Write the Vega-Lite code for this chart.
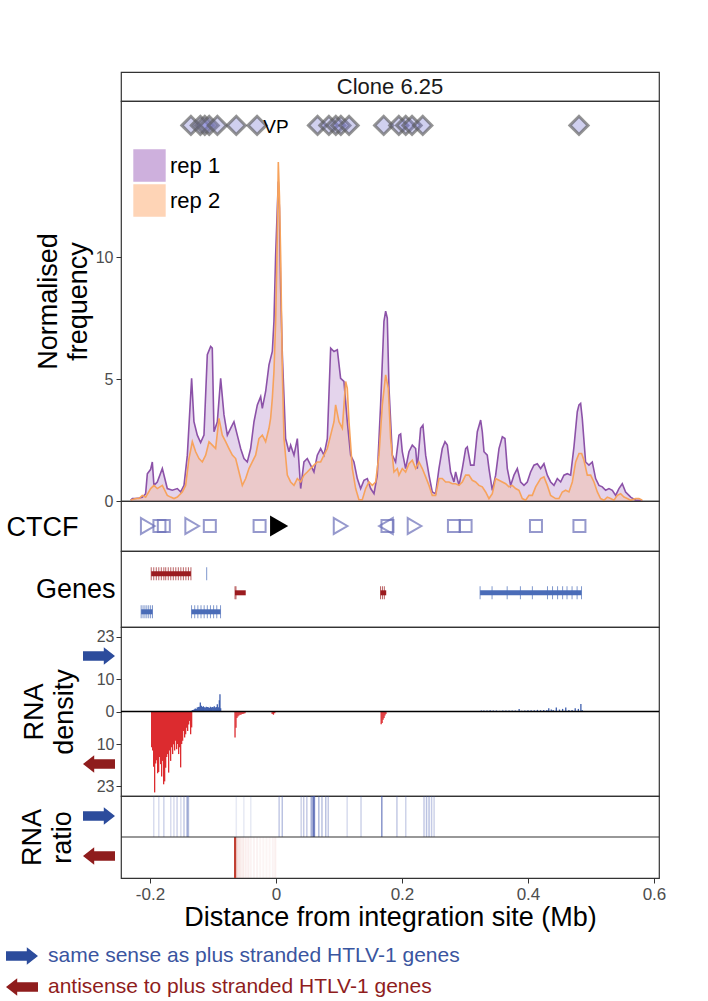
{
  "$schema": "https://vega.github.io/schema/vega-lite/v6.json",
  "background": "white",
  "padding": {"left": 5, "top": 71, "right": 5, "bottom": 5},
  "spacing": 0,
  "bounds": "flush",
  "config": {
    "font": "Liberation Sans",
    "view": {"stroke": "#333333", "strokeWidth": 1.2},
    "axis": {"domain": false, "grid": false, "labelColor": "#4d4d4d", "labelFontSize": 16, "tickColor": "#333333", "tickSize": 5, "titleColor": "#000000", "titleFontWeight": "normal", "titleFontSize": 27, "labelFont": "Liberation Sans", "titleFont": "Liberation Sans"},
    "legend": {"labelFont": "Liberation Sans"}
  },
  "datasets": {
    "freq": [
      {"x":-0.2307,"y":0.03,"rep":"rep 1"},{"x":-0.228,"y":0.1,"rep":"rep 1"},{"x":-0.2228,"y":0.1,"rep":"rep 1"},{"x":-0.2175,"y":0.12,"rep":"rep 1"},{"x":-0.2122,"y":0.15,"rep":"rep 1"},{"x":-0.2069,"y":0.3,"rep":"rep 1"},{"x":-0.2042,"y":1.12,"rep":"rep 1"},{"x":-0.1989,"y":1.3,"rep":"rep 1"},{"x":-0.1963,"y":1.6,"rep":"rep 1"},{"x":-0.1937,"y":0.64,"rep":"rep 1"},{"x":-0.1884,"y":0.78,"rep":"rep 1"},{"x":-0.1804,"y":1.33,"rep":"rep 1"},{"x":-0.1725,"y":0.51,"rep":"rep 1"},{"x":-0.1646,"y":0.44,"rep":"rep 1"},{"x":-0.1566,"y":0.51,"rep":"rep 1"},{"x":-0.1513,"y":0.37,"rep":"rep 1"},{"x":-0.146,"y":0.64,"rep":"rep 1"},{"x":-0.1407,"y":1.88,"rep":"rep 1"},{"x":-0.1339,"y":5.03,"rep":"rep 1"},{"x":-0.1302,"y":3.25,"rep":"rep 1"},{"x":-0.1249,"y":2.7,"rep":"rep 1"},{"x":-0.1196,"y":2.4,"rep":"rep 1"},{"x":-0.1143,"y":2.7,"rep":"rep 1"},{"x":-0.109,"y":6.0,"rep":"rep 1"},{"x":-0.1037,"y":6.34,"rep":"rep 1"},{"x":-0.1011,"y":6.27,"rep":"rep 1"},{"x":-0.0984,"y":2.84,"rep":"rep 1"},{"x":-0.0931,"y":3.25,"rep":"rep 1"},{"x":-0.0878,"y":5.03,"rep":"rep 1"},{"x":-0.0825,"y":3.53,"rep":"rep 1"},{"x":-0.0772,"y":2.7,"rep":"rep 1"},{"x":-0.072,"y":2.98,"rep":"rep 1"},{"x":-0.0667,"y":3.25,"rep":"rep 1"},{"x":-0.0614,"y":2.7,"rep":"rep 1"},{"x":-0.0561,"y":2.15,"rep":"rep 1"},{"x":-0.0508,"y":1.74,"rep":"rep 1"},{"x":-0.0455,"y":1.6,"rep":"rep 1"},{"x":-0.0402,"y":2.15,"rep":"rep 1"},{"x":-0.0349,"y":3.25,"rep":"rep 1"},{"x":-0.0296,"y":3.94,"rep":"rep 1"},{"x":-0.0243,"y":4.28,"rep":"rep 1"},{"x":-0.0217,"y":3.8,"rep":"rep 1"},{"x":-0.0164,"y":4.49,"rep":"rep 1"},{"x":-0.0111,"y":5.58,"rep":"rep 1"},{"x":-0.0058,"y":6.13,"rep":"rep 1"},{"x":-0.0032,"y":7.37,"rep":"rep 1"},{"x":-0.0005,"y":10.1,"rep":"rep 1"},{"x":0.0021,"y":12.0,"rep":"rep 1"},{"x":0.0037,"y":13.1,"rep":"rep 1"},{"x":0.0055,"y":12.0,"rep":"rep 1"},{"x":0.0074,"y":8.74,"rep":"rep 1"},{"x":0.0101,"y":6.0,"rep":"rep 1"},{"x":0.0153,"y":2.56,"rep":"rep 1"},{"x":0.0206,"y":2.02,"rep":"rep 1"},{"x":0.0233,"y":2.29,"rep":"rep 1"},{"x":0.0286,"y":1.88,"rep":"rep 1"},{"x":0.0339,"y":2.56,"rep":"rep 1"},{"x":0.0392,"y":0.51,"rep":"rep 1"},{"x":0.0444,"y":1.6,"rep":"rep 1"},{"x":0.0497,"y":1.74,"rep":"rep 1"},{"x":0.055,"y":1.47,"rep":"rep 1"},{"x":0.0603,"y":1.19,"rep":"rep 1"},{"x":0.0656,"y":1.88,"rep":"rep 1"},{"x":0.0709,"y":2.15,"rep":"rep 1"},{"x":0.0762,"y":1.88,"rep":"rep 1"},{"x":0.0815,"y":2.56,"rep":"rep 1"},{"x":0.0868,"y":6.27,"rep":"rep 1"},{"x":0.0921,"y":6.13,"rep":"rep 1"},{"x":0.0974,"y":6.2,"rep":"rep 1"},{"x":0.1026,"y":5.03,"rep":"rep 1"},{"x":0.1079,"y":4.9,"rep":"rep 1"},{"x":0.1132,"y":3.25,"rep":"rep 1"},{"x":0.1185,"y":1.88,"rep":"rep 1"},{"x":0.1238,"y":1.6,"rep":"rep 1"},{"x":0.1291,"y":0.92,"rep":"rep 1"},{"x":0.1344,"y":0.51,"rep":"rep 1"},{"x":0.1397,"y":0.85,"rep":"rep 1"},{"x":0.145,"y":0.92,"rep":"rep 1"},{"x":0.1503,"y":0.51,"rep":"rep 1"},{"x":0.1556,"y":0.3,"rep":"rep 1"},{"x":0.1608,"y":1.06,"rep":"rep 1"},{"x":0.1661,"y":3.94,"rep":"rep 1"},{"x":0.1714,"y":7.37,"rep":"rep 1"},{"x":0.1741,"y":7.78,"rep":"rep 1"},{"x":0.1767,"y":7.5,"rep":"rep 1"},{"x":0.1794,"y":4.62,"rep":"rep 1"},{"x":0.1847,"y":1.88,"rep":"rep 1"},{"x":0.1899,"y":1.6,"rep":"rep 1"},{"x":0.1952,"y":2.7,"rep":"rep 1"},{"x":0.1979,"y":2.75,"rep":"rep 1"},{"x":0.2005,"y":2.02,"rep":"rep 1"},{"x":0.2058,"y":1.33,"rep":"rep 1"},{"x":0.2111,"y":2.02,"rep":"rep 1"},{"x":0.2164,"y":2.29,"rep":"rep 1"},{"x":0.2217,"y":2.15,"rep":"rep 1"},{"x":0.2243,"y":1.33,"rep":"rep 1"},{"x":0.2296,"y":2.98,"rep":"rep 1"},{"x":0.2333,"y":3.11,"rep":"rep 1"},{"x":0.2376,"y":1.88,"rep":"rep 1"},{"x":0.2429,"y":1.06,"rep":"rep 1"},{"x":0.2481,"y":0.37,"rep":"rep 1"},{"x":0.2534,"y":0.3,"rep":"rep 1"},{"x":0.2587,"y":1.33,"rep":"rep 1"},{"x":0.264,"y":2.15,"rep":"rep 1"},{"x":0.2683,"y":2.43,"rep":"rep 1"},{"x":0.272,"y":2.29,"rep":"rep 1"},{"x":0.2772,"y":1.19,"rep":"rep 1"},{"x":0.2825,"y":0.78,"rep":"rep 1"},{"x":0.2852,"y":1.19,"rep":"rep 1"},{"x":0.2905,"y":0.64,"rep":"rep 1"},{"x":0.2958,"y":1.33,"rep":"rep 1"},{"x":0.3011,"y":2.15,"rep":"rep 1"},{"x":0.3037,"y":2.22,"rep":"rep 1"},{"x":0.309,"y":1.47,"rep":"rep 1"},{"x":0.3143,"y":1.47,"rep":"rep 1"},{"x":0.3196,"y":2.84,"rep":"rep 1"},{"x":0.3249,"y":3.32,"rep":"rep 1"},{"x":0.3275,"y":2.84,"rep":"rep 1"},{"x":0.3302,"y":2.02,"rep":"rep 1"},{"x":0.3354,"y":1.88,"rep":"rep 1"},{"x":0.3381,"y":1.33,"rep":"rep 1"},{"x":0.3434,"y":0.44,"rep":"rep 1"},{"x":0.3487,"y":1.06,"rep":"rep 1"},{"x":0.354,"y":2.15,"rep":"rep 1"},{"x":0.3593,"y":2.63,"rep":"rep 1"},{"x":0.3635,"y":2.56,"rep":"rep 1"},{"x":0.3672,"y":1.33,"rep":"rep 1"},{"x":0.3725,"y":0.64,"rep":"rep 1"},{"x":0.3778,"y":1.06,"rep":"rep 1"},{"x":0.3831,"y":1.33,"rep":"rep 1"},{"x":0.3884,"y":0.78,"rep":"rep 1"},{"x":0.3937,"y":0.64,"rep":"rep 1"},{"x":0.3989,"y":0.78,"rep":"rep 1"},{"x":0.4042,"y":1.19,"rep":"rep 1"},{"x":0.4095,"y":1.47,"rep":"rep 1"},{"x":0.4148,"y":1.53,"rep":"rep 1"},{"x":0.4201,"y":1.33,"rep":"rep 1"},{"x":0.4254,"y":1.53,"rep":"rep 1"},{"x":0.4307,"y":1.06,"rep":"rep 1"},{"x":0.436,"y":0.78,"rep":"rep 1"},{"x":0.4413,"y":0.64,"rep":"rep 1"},{"x":0.4466,"y":0.92,"rep":"rep 1"},{"x":0.4519,"y":0.78,"rep":"rep 1"},{"x":0.4571,"y":1.06,"rep":"rep 1"},{"x":0.4624,"y":1.12,"rep":"rep 1"},{"x":0.4677,"y":1.06,"rep":"rep 1"},{"x":0.473,"y":2.22,"rep":"rep 1"},{"x":0.4783,"y":3.66,"rep":"rep 1"},{"x":0.481,"y":3.94,"rep":"rep 1"},{"x":0.4836,"y":4.0,"rep":"rep 1"},{"x":0.4862,"y":3.39,"rep":"rep 1"},{"x":0.4915,"y":1.6,"rep":"rep 1"},{"x":0.4968,"y":1.47,"rep":"rep 1"},{"x":0.5021,"y":1.6,"rep":"rep 1"},{"x":0.5074,"y":0.92,"rep":"rep 1"},{"x":0.5127,"y":0.64,"rep":"rep 1"},{"x":0.518,"y":0.58,"rep":"rep 1"},{"x":0.5233,"y":0.44,"rep":"rep 1"},{"x":0.5286,"y":0.51,"rep":"rep 1"},{"x":0.5339,"y":0.44,"rep":"rep 1"},{"x":0.5392,"y":0.23,"rep":"rep 1"},{"x":0.5444,"y":0.51,"rep":"rep 1"},{"x":0.5497,"y":0.71,"rep":"rep 1"},{"x":0.555,"y":0.37,"rep":"rep 1"},{"x":0.5603,"y":0.23,"rep":"rep 1"},{"x":0.563,"y":0.16,"rep":"rep 1"},{"x":0.5709,"y":0.03,"rep":"rep 1"},{"x":0.5762,"y":0.03,"rep":"rep 1"},{"x":0.5815,"y":0.0,"rep":"rep 1"},
      {"x":-0.2307,"y":0.03,"rep":"rep 2"},{"x":-0.2228,"y":0.1,"rep":"rep 2"},{"x":-0.2175,"y":0.1,"rep":"rep 2"},{"x":-0.2122,"y":0.23,"rep":"rep 2"},{"x":-0.2069,"y":0.16,"rep":"rep 2"},{"x":-0.1989,"y":0.51,"rep":"rep 2"},{"x":-0.1937,"y":0.64,"rep":"rep 2"},{"x":-0.1884,"y":0.51,"rep":"rep 2"},{"x":-0.1804,"y":0.64,"rep":"rep 2"},{"x":-0.1725,"y":0.23,"rep":"rep 2"},{"x":-0.1672,"y":0.16,"rep":"rep 2"},{"x":-0.1619,"y":0.1,"rep":"rep 2"},{"x":-0.1566,"y":0.16,"rep":"rep 2"},{"x":-0.1487,"y":0.37,"rep":"rep 2"},{"x":-0.1434,"y":0.64,"rep":"rep 2"},{"x":-0.1381,"y":1.74,"rep":"rep 2"},{"x":-0.1328,"y":2.43,"rep":"rep 2"},{"x":-0.1275,"y":2.02,"rep":"rep 2"},{"x":-0.1222,"y":1.74,"rep":"rep 2"},{"x":-0.1169,"y":1.6,"rep":"rep 2"},{"x":-0.1116,"y":1.88,"rep":"rep 2"},{"x":-0.1063,"y":2.43,"rep":"rep 2"},{"x":-0.1011,"y":2.29,"rep":"rep 2"},{"x":-0.0958,"y":2.15,"rep":"rep 2"},{"x":-0.0905,"y":3.39,"rep":"rep 2"},{"x":-0.0852,"y":2.7,"rep":"rep 2"},{"x":-0.0799,"y":2.43,"rep":"rep 2"},{"x":-0.0746,"y":2.15,"rep":"rep 2"},{"x":-0.0693,"y":1.88,"rep":"rep 2"},{"x":-0.064,"y":1.74,"rep":"rep 2"},{"x":-0.0587,"y":1.19,"rep":"rep 2"},{"x":-0.0534,"y":0.64,"rep":"rep 2"},{"x":-0.0481,"y":0.92,"rep":"rep 2"},{"x":-0.0429,"y":1.33,"rep":"rep 2"},{"x":-0.0376,"y":1.6,"rep":"rep 2"},{"x":-0.0323,"y":1.88,"rep":"rep 2"},{"x":-0.027,"y":2.56,"rep":"rep 2"},{"x":-0.0217,"y":2.7,"rep":"rep 2"},{"x":-0.0164,"y":2.43,"rep":"rep 2"},{"x":-0.0111,"y":2.98,"rep":"rep 2"},{"x":-0.0085,"y":3.39,"rep":"rep 2"},{"x":-0.0058,"y":4.21,"rep":"rep 2"},{"x":-0.0032,"y":5.31,"rep":"rep 2"},{"x":-0.0005,"y":7.37,"rep":"rep 2"},{"x":0.0021,"y":10.8,"rep":"rep 2"},{"x":0.0037,"y":13.9,"rep":"rep 2"},{"x":0.0055,"y":12.5,"rep":"rep 2"},{"x":0.0074,"y":10.1,"rep":"rep 2"},{"x":0.0101,"y":5.31,"rep":"rep 2"},{"x":0.0127,"y":2.56,"rep":"rep 2"},{"x":0.018,"y":1.06,"rep":"rep 2"},{"x":0.0233,"y":0.78,"rep":"rep 2"},{"x":0.0286,"y":0.64,"rep":"rep 2"},{"x":0.0339,"y":0.92,"rep":"rep 2"},{"x":0.0392,"y":0.78,"rep":"rep 2"},{"x":0.0444,"y":1.06,"rep":"rep 2"},{"x":0.0497,"y":1.19,"rep":"rep 2"},{"x":0.055,"y":1.33,"rep":"rep 2"},{"x":0.0603,"y":1.47,"rep":"rep 2"},{"x":0.0656,"y":1.6,"rep":"rep 2"},{"x":0.0709,"y":1.6,"rep":"rep 2"},{"x":0.0762,"y":1.88,"rep":"rep 2"},{"x":0.0815,"y":2.15,"rep":"rep 2"},{"x":0.0868,"y":2.7,"rep":"rep 2"},{"x":0.0921,"y":3.25,"rep":"rep 2"},{"x":0.0947,"y":3.94,"rep":"rep 2"},{"x":0.1,"y":3.25,"rep":"rep 2"},{"x":0.1053,"y":2.98,"rep":"rep 2"},{"x":0.1106,"y":4.9,"rep":"rep 2"},{"x":0.1132,"y":4.62,"rep":"rep 2"},{"x":0.1159,"y":3.25,"rep":"rep 2"},{"x":0.1212,"y":1.33,"rep":"rep 2"},{"x":0.1265,"y":0.51,"rep":"rep 2"},{"x":0.1317,"y":0.05,"rep":"rep 2"},{"x":0.137,"y":0.05,"rep":"rep 2"},{"x":0.1423,"y":0.51,"rep":"rep 2"},{"x":0.1476,"y":0.78,"rep":"rep 2"},{"x":0.1529,"y":0.64,"rep":"rep 2"},{"x":0.1582,"y":0.78,"rep":"rep 2"},{"x":0.1635,"y":1.88,"rep":"rep 2"},{"x":0.1688,"y":3.94,"rep":"rep 2"},{"x":0.1741,"y":5.17,"rep":"rep 2"},{"x":0.1783,"y":4.62,"rep":"rep 2"},{"x":0.182,"y":2.56,"rep":"rep 2"},{"x":0.1873,"y":1.19,"rep":"rep 2"},{"x":0.1926,"y":1.33,"rep":"rep 2"},{"x":0.1952,"y":1.06,"rep":"rep 2"},{"x":0.2005,"y":1.33,"rep":"rep 2"},{"x":0.2058,"y":1.19,"rep":"rep 2"},{"x":0.2111,"y":1.53,"rep":"rep 2"},{"x":0.2164,"y":1.67,"rep":"rep 2"},{"x":0.2217,"y":1.33,"rep":"rep 2"},{"x":0.227,"y":1.6,"rep":"rep 2"},{"x":0.2323,"y":1.33,"rep":"rep 2"},{"x":0.2376,"y":0.99,"rep":"rep 2"},{"x":0.2429,"y":0.64,"rep":"rep 2"},{"x":0.2481,"y":0.23,"rep":"rep 2"},{"x":0.2534,"y":0.23,"rep":"rep 2"},{"x":0.2587,"y":0.92,"rep":"rep 2"},{"x":0.264,"y":0.92,"rep":"rep 2"},{"x":0.2693,"y":0.78,"rep":"rep 2"},{"x":0.2746,"y":0.78,"rep":"rep 2"},{"x":0.2799,"y":0.71,"rep":"rep 2"},{"x":0.2852,"y":0.71,"rep":"rep 2"},{"x":0.2905,"y":0.64,"rep":"rep 2"},{"x":0.2958,"y":0.78,"rep":"rep 2"},{"x":0.3011,"y":1.06,"rep":"rep 2"},{"x":0.3063,"y":1.06,"rep":"rep 2"},{"x":0.3116,"y":0.85,"rep":"rep 2"},{"x":0.3169,"y":0.78,"rep":"rep 2"},{"x":0.3222,"y":0.64,"rep":"rep 2"},{"x":0.3275,"y":0.58,"rep":"rep 2"},{"x":0.3328,"y":0.37,"rep":"rep 2"},{"x":0.3381,"y":0.1,"rep":"rep 2"},{"x":0.3434,"y":0.3,"rep":"rep 2"},{"x":0.3487,"y":0.92,"rep":"rep 2"},{"x":0.354,"y":0.85,"rep":"rep 2"},{"x":0.3593,"y":0.78,"rep":"rep 2"},{"x":0.3646,"y":0.71,"rep":"rep 2"},{"x":0.3698,"y":0.58,"rep":"rep 2"},{"x":0.3751,"y":0.64,"rep":"rep 2"},{"x":0.3804,"y":0.51,"rep":"rep 2"},{"x":0.3857,"y":0.44,"rep":"rep 2"},{"x":0.391,"y":0.1,"rep":"rep 2"},{"x":0.3963,"y":0.03,"rep":"rep 2"},{"x":0.4016,"y":0.23,"rep":"rep 2"},{"x":0.4069,"y":0.23,"rep":"rep 2"},{"x":0.4122,"y":0.58,"rep":"rep 2"},{"x":0.4201,"y":0.92,"rep":"rep 2"},{"x":0.4254,"y":0.99,"rep":"rep 2"},{"x":0.4307,"y":0.64,"rep":"rep 2"},{"x":0.436,"y":0.23,"rep":"rep 2"},{"x":0.4439,"y":0.1,"rep":"rep 2"},{"x":0.4492,"y":0.1,"rep":"rep 2"},{"x":0.4545,"y":0.37,"rep":"rep 2"},{"x":0.4598,"y":0.44,"rep":"rep 2"},{"x":0.4651,"y":0.37,"rep":"rep 2"},{"x":0.4704,"y":0.78,"rep":"rep 2"},{"x":0.4757,"y":1.6,"rep":"rep 2"},{"x":0.481,"y":1.95,"rep":"rep 2"},{"x":0.4852,"y":1.95,"rep":"rep 2"},{"x":0.4889,"y":1.67,"rep":"rep 2"},{"x":0.4942,"y":1.06,"rep":"rep 2"},{"x":0.4995,"y":1.06,"rep":"rep 2"},{"x":0.5048,"y":0.78,"rep":"rep 2"},{"x":0.5101,"y":0.37,"rep":"rep 2"},{"x":0.5153,"y":0.1,"rep":"rep 2"},{"x":0.5206,"y":0.03,"rep":"rep 2"},{"x":0.5259,"y":0.16,"rep":"rep 2"},{"x":0.5312,"y":0.1,"rep":"rep 2"},{"x":0.5365,"y":0.03,"rep":"rep 2"},{"x":0.5418,"y":0.23,"rep":"rep 2"},{"x":0.5471,"y":0.3,"rep":"rep 2"},{"x":0.5524,"y":0.16,"rep":"rep 2"},{"x":0.5577,"y":0.1,"rep":"rep 2"},{"x":0.563,"y":0.03,"rep":"rep 2"},{"x":0.5709,"y":0.1,"rep":"rep 2"},{"x":0.5762,"y":0.1,"rep":"rep 2"},{"x":0.5815,"y":0.03,"rep":"rep 2"}
    ],
    "diamonds": [
      {"x":-0.135},{"x":-0.12},{"x":-0.113},{"x":-0.106},{"x":-0.093},{"x":-0.063},{"x":-0.03},
      {"x":0.066},{"x":0.084},{"x":0.095},{"x":0.103},{"x":0.116},
      {"x":0.171},{"x":0.195},{"x":0.206},{"x":0.216},{"x":0.233},
      {"x":0.481}
    ],
    "ctcf": [
      {"x":-0.2035,"orient":"fwd"},{"x":-0.185,"orient":"unk"},{"x":-0.178,"orient":"unk"},{"x":-0.133,"orient":"fwd"},{"x":-0.105,"orient":"unk"},{"x":-0.026,"orient":"unk"},{"x":0.1026,"orient":"fwd"},{"x":0.1746,"orient":"rev"},{"x":0.177,"orient":"unk"},{"x":0.22,"orient":"fwd"},{"x":0.2825,"orient":"unk"},{"x":0.301,"orient":"unk"},{"x":0.4127,"orient":"unk"},{"x":0.4817,"orient":"unk"}
    ],
    "genes": [
      {"start":-0.198,"end":-0.135,"row":3,"strand":"minus"},
      {"start":-0.065,"end":-0.048,"row":2,"strand":"minus"},
      {"start":0.166,"end":0.175,"row":2,"strand":"minus"},
      {"start":-0.214,"end":-0.196,"row":1,"strand":"plus"},
      {"start":-0.134,"end":-0.088,"row":1,"strand":"plus"},
      {"start":0.324,"end":0.485,"row":2,"strand":"plus"}
    ],
    "exons": [
      {"x":-0.198,"row":3,"strand":"minus"},{"x":-0.194,"row":3,"strand":"minus"},{"x":-0.19,"row":3,"strand":"minus"},{"x":-0.186,"row":3,"strand":"minus"},{"x":-0.182,"row":3,"strand":"minus"},{"x":-0.178,"row":3,"strand":"minus"},{"x":-0.175,"row":3,"strand":"minus"},{"x":-0.171,"row":3,"strand":"minus"},{"x":-0.167,"row":3,"strand":"minus"},{"x":-0.163,"row":3,"strand":"minus"},{"x":-0.159,"row":3,"strand":"minus"},{"x":-0.155,"row":3,"strand":"minus"},{"x":-0.151,"row":3,"strand":"minus"},{"x":-0.147,"row":3,"strand":"minus"},{"x":-0.143,"row":3,"strand":"minus"},{"x":-0.139,"row":3,"strand":"minus"},{"x":-0.135,"row":3,"strand":"minus"},
      {"x":-0.11,"row":3,"strand":"plus"},
      {"x":-0.065,"row":2,"strand":"minus"},{"x":-0.0635,"row":2,"strand":"minus"},
      {"x":0.166,"row":2,"strand":"minus"},{"x":0.169,"row":2,"strand":"minus"},{"x":0.172,"row":2,"strand":"minus"},
      {"x":-0.214,"row":1,"strand":"plus"},{"x":-0.211,"row":1,"strand":"plus"},{"x":-0.208,"row":1,"strand":"plus"},{"x":-0.205,"row":1,"strand":"plus"},{"x":-0.202,"row":1,"strand":"plus"},{"x":-0.199,"row":1,"strand":"plus"},{"x":-0.196,"row":1,"strand":"plus"},
      {"x":-0.134,"row":1,"strand":"plus"},{"x":-0.129,"row":1,"strand":"plus"},{"x":-0.124,"row":1,"strand":"plus"},{"x":-0.119,"row":1,"strand":"plus"},{"x":-0.114,"row":1,"strand":"plus"},{"x":-0.109,"row":1,"strand":"plus"},{"x":-0.104,"row":1,"strand":"plus"},{"x":-0.099,"row":1,"strand":"plus"},{"x":-0.094,"row":1,"strand":"plus"},{"x":-0.088,"row":1,"strand":"plus"},
      {"x":0.324,"row":2,"strand":"plus"},{"x":0.343,"row":2,"strand":"plus"},{"x":0.367,"row":2,"strand":"plus"},{"x":0.388,"row":2,"strand":"plus"},{"x":0.407,"row":2,"strand":"plus"},{"x":0.431,"row":2,"strand":"plus"},{"x":0.439,"row":2,"strand":"plus"},{"x":0.447,"row":2,"strand":"plus"},{"x":0.455,"row":2,"strand":"plus"},{"x":0.462,"row":2,"strand":"plus"},{"x":0.47,"row":2,"strand":"plus"},{"x":0.478,"row":2,"strand":"plus"},{"x":0.485,"row":2,"strand":"plus"}
    ],
    "dens": [
      {"x":-0.19735,"v":-11,"strand":"minus"},{"x":-0.19577,"v":-12,"strand":"minus"},{"x":-0.19418,"v":-17,"strand":"minus"},{"x":-0.19259,"v":-24.9,"strand":"minus"},{"x":-0.19101,"v":-16,"strand":"minus"},{"x":-0.18942,"v":-15,"strand":"minus"},{"x":-0.18783,"v":-19,"strand":"minus"},{"x":-0.18624,"v":-18.6,"strand":"minus"},{"x":-0.18466,"v":-14,"strand":"minus"},{"x":-0.18307,"v":-16.2,"strand":"minus"},{"x":-0.18148,"v":-20,"strand":"minus"},{"x":-0.17989,"v":-15.2,"strand":"minus"},{"x":-0.17831,"v":-22.4,"strand":"minus"},{"x":-0.17672,"v":-21.5,"strand":"minus"},{"x":-0.17513,"v":-17.3,"strand":"minus"},{"x":-0.17354,"v":-14,"strand":"minus"},{"x":-0.17196,"v":-13.1,"strand":"minus"},{"x":-0.17037,"v":-18.8,"strand":"minus"},{"x":-0.16878,"v":-12,"strand":"minus"},{"x":-0.1672,"v":-15.2,"strand":"minus"},{"x":-0.16561,"v":-11,"strand":"minus"},{"x":-0.16402,"v":-13.1,"strand":"minus"},{"x":-0.16243,"v":-10.1,"strand":"minus"},{"x":-0.16085,"v":-12,"strand":"minus"},{"x":-0.15926,"v":-9,"strand":"minus"},{"x":-0.15767,"v":-11.6,"strand":"minus"},{"x":-0.15608,"v":-10,"strand":"minus"},{"x":-0.1545,"v":-13.1,"strand":"minus"},{"x":-0.15291,"v":-11,"strand":"minus"},{"x":-0.15132,"v":-17.2,"strand":"minus"},{"x":-0.14974,"v":-10,"strand":"minus"},{"x":-0.14815,"v":-9,"strand":"minus"},{"x":-0.14656,"v":-6,"strand":"minus"},{"x":-0.14497,"v":-8,"strand":"minus"},{"x":-0.14339,"v":-7,"strand":"minus"},{"x":-0.1418,"v":-5,"strand":"minus"},{"x":-0.14021,"v":-6,"strand":"minus"},{"x":-0.13862,"v":-4,"strand":"minus"},{"x":-0.13704,"v":-2.9,"strand":"minus"},{"x":-0.13545,"v":-7,"strand":"minus"},{"x":-0.13386,"v":-4.9,"strand":"minus"},
      {"x":-0.065,"v":-8,"strand":"minus"},{"x":-0.0635,"v":-5,"strand":"minus"},{"x":-0.062,"v":-2,"strand":"minus"},{"x":-0.0604,"v":-1.5,"strand":"minus"},{"x":-0.0588,"v":-1.2,"strand":"minus"},{"x":-0.0572,"v":-1,"strand":"minus"},{"x":-0.0556,"v":-1,"strand":"minus"},{"x":-0.054,"v":-0.8,"strand":"minus"},{"x":-0.0524,"v":-0.8,"strand":"minus"},{"x":-0.0508,"v":-0.6,"strand":"minus"},{"x":-0.0492,"v":-0.5,"strand":"minus"},
      {"x":-0.006,"v":-0.8,"strand":"minus"},{"x":-0.004,"v":-1,"strand":"minus"},{"x":-0.002,"v":-0.5,"strand":"minus"},
      {"x":0.167,"v":-3.9,"strand":"minus"},{"x":0.1685,"v":-3.5,"strand":"minus"},{"x":0.17,"v":-2.5,"strand":"minus"},{"x":0.1715,"v":-2,"strand":"minus"},{"x":0.173,"v":-1.2,"strand":"minus"},{"x":0.1745,"v":-0.8,"strand":"minus"},
      {"x":-0.1328,"v":0.5,"strand":"plus"},{"x":-0.1312,"v":0.5,"strand":"plus"},{"x":-0.1296,"v":0.7,"strand":"plus"},{"x":-0.128,"v":0.9,"strand":"plus"},{"x":-0.1265,"v":0.8,"strand":"plus"},{"x":-0.1249,"v":1.2,"strand":"plus"},{"x":-0.1233,"v":1.4,"strand":"plus"},{"x":-0.1217,"v":1.5,"strand":"plus"},{"x":-0.1201,"v":2.8,"strand":"plus"},{"x":-0.1185,"v":1.8,"strand":"plus"},{"x":-0.1169,"v":1.4,"strand":"plus"},{"x":-0.1153,"v":1.6,"strand":"plus"},{"x":-0.1138,"v":1.3,"strand":"plus"},{"x":-0.1122,"v":1.2,"strand":"plus"},{"x":-0.1106,"v":1.5,"strand":"plus"},{"x":-0.109,"v":1.4,"strand":"plus"},{"x":-0.1074,"v":1.3,"strand":"plus"},{"x":-0.1058,"v":1.1,"strand":"plus"},{"x":-0.1042,"v":1.5,"strand":"plus"},{"x":-0.1026,"v":1.2,"strand":"plus"},{"x":-0.1011,"v":1.4,"strand":"plus"},{"x":-0.0995,"v":1.3,"strand":"plus"},{"x":-0.0979,"v":1.6,"strand":"plus"},{"x":-0.0963,"v":1.2,"strand":"plus"},{"x":-0.0947,"v":1.4,"strand":"plus"},{"x":-0.0931,"v":2.2,"strand":"plus"},{"x":-0.0915,"v":1.3,"strand":"plus"},{"x":-0.0899,"v":3.5,"strand":"plus"},{"x":-0.0889,"v":5.3,"strand":"plus"},{"x":-0.0878,"v":1.0,"strand":"plus"},
      {"x":0.326,"v":0.3,"strand":"plus"},{"x":0.33,"v":0.3,"strand":"plus"},{"x":0.335,"v":0.3,"strand":"plus"},{"x":0.34,"v":0.4,"strand":"plus"},{"x":0.345,"v":0.3,"strand":"plus"},{"x":0.35,"v":0.3,"strand":"plus"},{"x":0.355,"v":0.2,"strand":"plus"},{"x":0.36,"v":0.3,"strand":"plus"},{"x":0.365,"v":0.3,"strand":"plus"},{"x":0.37,"v":0.3,"strand":"plus"},{"x":0.375,"v":0.3,"strand":"plus"},{"x":0.38,"v":0.3,"strand":"plus"},{"x":0.386,"v":0.8,"strand":"plus"},{"x":0.39,"v":0.2,"strand":"plus"},{"x":0.395,"v":0.3,"strand":"plus"},{"x":0.4,"v":0.4,"strand":"plus"},{"x":0.405,"v":0.4,"strand":"plus"},{"x":0.41,"v":0.4,"strand":"plus"},{"x":0.415,"v":0.5,"strand":"plus"},{"x":0.42,"v":0.4,"strand":"plus"},{"x":0.425,"v":0.5,"strand":"plus"},{"x":0.43,"v":0.5,"strand":"plus"},{"x":0.433,"v":1.0,"strand":"plus"},{"x":0.437,"v":0.6,"strand":"plus"},{"x":0.44,"v":0.5,"strand":"plus"},{"x":0.445,"v":1.2,"strand":"plus"},{"x":0.45,"v":0.6,"strand":"plus"},{"x":0.455,"v":0.8,"strand":"plus"},{"x":0.46,"v":1.2,"strand":"plus"},{"x":0.465,"v":0.5,"strand":"plus"},{"x":0.47,"v":0.5,"strand":"plus"},{"x":0.475,"v":1.0,"strand":"plus"},{"x":0.48,"v":0.8,"strand":"plus"},{"x":0.484,"v":2.3,"strand":"plus"},{"x":0.486,"v":0.5,"strand":"plus"}
    ],
    "ratio": [
      {"x":-0.194,"ratio":0.2,"strand":"plus"},{"x":-0.186,"ratio":0.2,"strand":"plus"},{"x":-0.178,"ratio":0.25,"strand":"plus"},{"x":-0.167,"ratio":0.2,"strand":"plus"},{"x":-0.162,"ratio":0.2,"strand":"plus"},{"x":-0.157,"ratio":0.25,"strand":"plus"},{"x":-0.151,"ratio":0.2,"strand":"plus"},{"x":-0.146,"ratio":0.3,"strand":"plus"},{"x":-0.141,"ratio":0.45,"strand":"plus"},{"x":-0.139,"ratio":0.4,"strand":"plus"},{"x":-0.063,"ratio":0.12,"strand":"plus"},{"x":-0.051,"ratio":0.12,"strand":"plus"},{"x":-0.04,"ratio":0.12,"strand":"plus"},{"x":0.005,"ratio":0.3,"strand":"plus"},{"x":0.01,"ratio":0.35,"strand":"plus"},{"x":0.04,"ratio":0.25,"strand":"plus"},{"x":0.044,"ratio":0.3,"strand":"plus"},{"x":0.049,"ratio":0.3,"strand":"plus"},{"x":0.056,"ratio":0.45,"strand":"plus"},{"x":0.059,"ratio":0.8,"strand":"plus"},{"x":0.061,"ratio":0.7,"strand":"plus"},{"x":0.068,"ratio":0.4,"strand":"plus"},{"x":0.073,"ratio":0.35,"strand":"plus"},{"x":0.079,"ratio":0.35,"strand":"plus"},{"x":0.083,"ratio":0.3,"strand":"plus"},{"x":0.113,"ratio":0.2,"strand":"plus"},{"x":0.135,"ratio":0.25,"strand":"plus"},{"x":0.168,"ratio":0.6,"strand":"plus"},{"x":0.192,"ratio":0.3,"strand":"plus"},{"x":0.206,"ratio":0.25,"strand":"plus"},{"x":0.235,"ratio":0.3,"strand":"plus"},{"x":0.239,"ratio":0.35,"strand":"plus"},{"x":0.243,"ratio":0.35,"strand":"plus"},{"x":0.247,"ratio":0.3,"strand":"plus"},{"x":0.251,"ratio":0.25,"strand":"plus"},
      {"x":-0.065,"ratio":0.95,"strand":"minus"},{"x":-0.064,"ratio":0.3,"strand":"minus"},{"x":-0.062,"ratio":0.15,"strand":"minus"},{"x":-0.059,"ratio":0.12,"strand":"minus"},{"x":-0.056,"ratio":0.1,"strand":"minus"},{"x":-0.052,"ratio":0.1,"strand":"minus"},{"x":-0.048,"ratio":0.08,"strand":"minus"},{"x":-0.044,"ratio":0.08,"strand":"minus"},{"x":-0.04,"ratio":0.06,"strand":"minus"},{"x":-0.035,"ratio":0.06,"strand":"minus"},{"x":-0.03,"ratio":0.06,"strand":"minus"},{"x":-0.025,"ratio":0.05,"strand":"minus"},{"x":-0.02,"ratio":0.05,"strand":"minus"},{"x":-0.015,"ratio":0.05,"strand":"minus"},{"x":-0.01,"ratio":0.05,"strand":"minus"},{"x":-0.005,"ratio":0.06,"strand":"minus"},{"x":-0.001,"ratio":0.08,"strand":"minus"}
    ],
    "legendkeys": [{"key": "same"}, {"key": "anti"}]
  },
  "vconcat": [
    {
      "width": 538, "height": 29,
      "data": {"values": [{"label": "Clone 6.25", "x": 0.181, "y": 0.5}]},
      "mark": {"type": "text", "fontSize": 22, "color": "#1a1a1a"},
      "encoding": {
        "x": {"field": "x", "type": "quantitative", "scale": {"domain": [-0.246, 0.608], "nice": false, "zero": false}, "axis": null},
        "y": {"field": "y", "type": "quantitative", "scale": {"domain": [0, 1]}, "axis": null},
        "text": {"field": "label", "type": "nominal"}
      }
    },
    {
      "width": 538, "height": 400,
      "layer": [
        {
          "data": {"name": "freq"},
          "mark": {"type": "area", "fillOpacity": 0.3},
          "encoding": {
            "x": {"field": "x", "type": "quantitative", "scale": {"domain": [-0.246, 0.608], "nice": false, "zero": false}, "axis": null},
            "y": {"field": "y", "type": "quantitative", "stack": null, "scale": {"domain": [0, 16.4], "nice": false}, "axis": {"values": [0, 5, 10], "title": ["Normalised", "frequency"], "titleLineHeight": 30, "titlePadding": 3, "labelPadding": 3}},
            "fill": {"field": "rep", "type": "nominal", "scale": {"domain": ["rep 1", "rep 2"], "range": ["#a66fc1", "#fdb07a"]},
              "legend": {"orient": "none", "legendX": 12, "legendY": 48, "title": null, "symbolType": "square", "symbolSize": 1050, "symbolOpacity": 0.55, "symbolStrokeWidth": 0, "labelFontSize": 22, "labelColor": "#000000", "rowPadding": 2, "padding": 0, "labelOffset": 4}}
          }
        },
        {
          "data": {"name": "freq"},
          "mark": {"type": "line", "strokeWidth": 1.6},
          "encoding": {
            "x": {"field": "x", "type": "quantitative", "scale": {"domain": [-0.246, 0.608], "nice": false, "zero": false}, "axis": null},
            "y": {"field": "y", "type": "quantitative"},
            "stroke": {"field": "rep", "type": "nominal", "scale": {"domain": ["rep 1", "rep 2"], "range": ["#8c52a8", "#f7a35c"]}, "legend": null}
          }
        },
        {
          "data": {"name": "diamonds"},
          "mark": {"type": "point", "shape": "diamond", "filled": true, "size": 330, "fill": "#7878d2", "fillOpacity": 0.35, "stroke": "#5a5a5a", "strokeOpacity": 0.65, "strokeWidth": 3},
          "encoding": {
            "x": {"field": "x", "type": "quantitative"},
            "y": {"datum": 15.4, "type": "quantitative"}
          }
        },
        {
          "data": {"values": [{"x": 0, "label": "VP"}]},
          "mark": {"type": "text", "fontSize": 19, "color": "#000000"},
          "encoding": {
            "x": {"field": "x", "type": "quantitative"},
            "y": {"datum": 15.35, "type": "quantitative"},
            "text": {"field": "label", "type": "nominal"}
          }
        }
      ]
    },
    {
      "width": 538, "height": 50,
      "layer": [
        {
          "data": {"name": "ctcf"},
          "transform": [{"filter": "datum.orient != 'unk'"}],
          "mark": {"type": "point", "filled": false, "strokeWidth": 2, "size": 250, "color": "#6b6fb8"},
          "encoding": {
            "x": {"field": "x", "type": "quantitative", "scale": {"domain": [-0.246, 0.608], "nice": false, "zero": false}, "axis": null},
            "y": {"datum": 0.5, "type": "quantitative", "scale": {"domain": [0, 1]}, "axis": {"title": "CTCF", "values": [], "labels": false, "ticks": false, "titleAngle": 0, "titleAlign": "right", "titleBaseline": "middle", "titleX": -43, "titleY": 26}},
            "shape": {"field": "orient", "type": "nominal", "scale": {"domain": ["fwd", "rev"], "range": ["triangle-right", "triangle-left"]}, "legend": null}
          }
        },
        {
          "data": {"name": "ctcf"},
          "transform": [{"filter": "datum.orient == 'unk'"}],
          "mark": {"type": "point", "shape": "square", "filled": false, "strokeWidth": 2, "size": 144, "color": "#6b6fb8"},
          "encoding": {
            "x": {"field": "x", "type": "quantitative"},
            "y": {"datum": 0.5, "type": "quantitative"}
          }
        },
        {
          "data": {"values": [{"x": 0.005}]},
          "mark": {"type": "point", "shape": "triangle-right", "filled": true, "size": 440, "color": "#000000", "opacity": 1},
          "encoding": {
            "x": {"field": "x", "type": "quantitative"},
            "y": {"datum": 0.5, "type": "quantitative"}
          }
        }
      ]
    },
    {
      "width": 538, "height": 76,
      "layer": [
        {
          "data": {"name": "genes"},
          "mark": {"type": "rule", "strokeWidth": 5},
          "encoding": {
            "x": {"field": "start", "type": "quantitative", "scale": {"domain": [-0.246, 0.608], "nice": false, "zero": false}, "axis": null},
            "x2": {"field": "end"},
            "y": {"field": "row", "type": "quantitative", "scale": {"domain": [0.2, 4.2], "nice": false, "zero": false}, "axis": {"title": "Genes", "values": [], "labels": false, "ticks": false, "titleAngle": 0, "titleAlign": "right", "titleBaseline": "middle", "titleX": -6, "titleY": 38}},
            "color": {"field": "strand", "type": "nominal", "scale": {"domain": ["plus", "minus"], "range": ["#4a6cb8", "#9b1c20"]}, "legend": null}
          }
        },
        {
          "data": {"name": "exons"},
          "mark": {"type": "tick", "orient": "vertical", "size": 13, "thickness": 1, "opacity": 0.7},
          "encoding": {
            "x": {"field": "x", "type": "quantitative"},
            "y": {"field": "row", "type": "quantitative"},
            "color": {"field": "strand", "type": "nominal", "legend": null}
          }
        },
        {
          "data": {"name": "legendkeys"},
          "mark": {"type": "point", "filled": true, "opacity": 0.001},
          "encoding": {
            "fill": {"field": "key", "type": "nominal", "scale": {"domain": ["same", "anti"], "range": ["#2c4c9c", "#8f1d1d"]},
              "legend": {"orient": "none", "legendX": -115, "legendY": 389, "title": null, "direction": "vertical", "symbolSize": 1024, "symbolOpacity": 1, "symbolStrokeWidth": 0, "labelFontSize": 21, "labelOffset": 10, "rowPadding": 5, "padding": 0, "labelLimit": 600, "labelColor": {"expr": "datum.value == 'same' ? '#3a55a0' : '#8f1d1d'"},
                "labelExpr": "datum.value == 'same' ? 'same sense as plus stranded HTLV-1 genes' : 'antisense to plus stranded HTLV-1 genes'"}},
            "shape": {"field": "key", "type": "nominal",
              "scale": {"domain": ["same", "anti"], "range": ["M-1,-0.3L0.3,-0.3L0.3,-0.55L1,0L0.3,0.55L0.3,0.3L-1,0.3Z", "M1,-0.3L-0.3,-0.3L-0.3,-0.55L-1,0L-0.3,0.55L-0.3,0.3L1,0.3Z"]},
              "legend": {"orient": "none", "legendX": -115, "legendY": 389, "title": null, "direction": "vertical", "symbolSize": 1024, "symbolOpacity": 1, "symbolStrokeWidth": 0, "labelFontSize": 21, "labelOffset": 10, "rowPadding": 5, "padding": 0, "labelLimit": 600, "labelColor": {"expr": "datum.value == 'same' ? '#3a55a0' : '#8f1d1d'"},
                "labelExpr": "datum.value == 'same' ? 'same sense as plus stranded HTLV-1 genes' : 'antisense to plus stranded HTLV-1 genes'"}}
          }
        }
      ]
    },
    {
      "width": 538, "height": 169,
      "layer": [
        {
          "data": {"name": "dens"},
          "mark": {"type": "rule", "strokeWidth": 1.3},
          "encoding": {
            "x": {"field": "x", "type": "quantitative", "scale": {"domain": [-0.246, 0.608], "nice": false, "zero": false}, "axis": null},
            "y": {"field": "v", "type": "quantitative", "scale": {"domain": [-26, 26], "nice": false, "zero": false},
              "axis": {"values": [-23, -10, 0, 10, 23], "labelExpr": "format(abs(datum.value), 'd')", "title": ["RNA", "density"], "titleLineHeight": 30, "titlePadding": 18}},
            "y2": {"datum": 0},
            "color": {"field": "strand", "type": "nominal", "scale": {"domain": ["plus", "minus"], "range": ["#3f5fae", "#dc2b2f"]}, "legend": null}
          }
        },
        {
          "data": {"values": [{"z": 0}]},
          "mark": {"type": "rule", "color": "#000000", "strokeWidth": 1.5},
          "encoding": {"y": {"field": "z", "type": "quantitative"}}
        },
        {
          "data": {"name": "legendkeys"},
          "mark": {"type": "point", "filled": true, "opacity": 0.001},
          "encoding": {
            "fill": {"field": "key", "type": "nominal", "scale": {"domain": ["same", "anti"], "range": ["#2c4c9c", "#8f1d1d"]},
              "legend": {"orient": "none", "legendX": -38, "legendY": 13, "title": null, "direction": "vertical", "symbolSize": 1024, "symbolOpacity": 1, "symbolStrokeWidth": 0, "labelExpr": "''", "labelFontSize": 1, "labelOffset": 0, "rowPadding": 83, "padding": 0}},
            "shape": {"field": "key", "type": "nominal",
              "scale": {"domain": ["same", "anti"], "range": ["M-1,-0.3L0.3,-0.3L0.3,-0.55L1,0L0.3,0.55L0.3,0.3L-1,0.3Z", "M1,-0.3L-0.3,-0.3L-0.3,-0.55L-1,0L-0.3,0.55L-0.3,0.3L1,0.3Z"]},
              "legend": {"orient": "none", "legendX": -38, "legendY": 13, "title": null, "direction": "vertical", "symbolSize": 1024, "symbolOpacity": 1, "symbolStrokeWidth": 0, "labelExpr": "''", "labelFontSize": 1, "labelOffset": 0, "rowPadding": 83, "padding": 0}}
          }
        }
      ]
    },
    {
      "width": 538, "height": 82,
      "layer": [
        {
          "data": {"name": "ratio"},
          "transform": [{"filter": "datum.strand == 'plus'"}],
          "mark": {"type": "rule", "strokeWidth": 1.5, "color": "#3a4fa8"},
          "encoding": {
            "x": {"field": "x", "type": "quantitative", "scale": {"domain": [-0.246, 0.608], "nice": false, "zero": false},
              "axis": {"values": [-0.2, 0, 0.2, 0.4, 0.6], "labelExpr": "datum.value == 0 ? '0' : (datum.value < 0 ? '-' : '') + format(abs(datum.value), '.1f')", "labelFontSize": 17, "title": "Distance from integration site (Mb)", "titlePadding": 2, "labelPadding": 3}},
            "y": {"datum": 1, "type": "quantitative", "scale": {"domain": [0, 2], "nice": false},
              "axis": {"values": [], "labels": false, "ticks": false, "title": ["RNA", "ratio"], "titleLineHeight": 30, "titlePadding": 45}},
            "y2": {"datum": 2},
            "opacity": {"field": "ratio", "type": "quantitative", "scale": {"domain": [0, 1], "range": [0, 1]}, "legend": null}
          }
        },
        {
          "data": {"name": "ratio"},
          "transform": [{"filter": "datum.strand == 'minus'"}],
          "mark": {"type": "rule", "strokeWidth": 2, "color": "#c0392b"},
          "encoding": {
            "x": {"field": "x", "type": "quantitative"},
            "y": {"datum": 0, "type": "quantitative"},
            "y2": {"datum": 1},
            "opacity": {"field": "ratio", "type": "quantitative", "legend": null}
          }
        },
        {
          "data": {"values": [{"z": 1}]},
          "mark": {"type": "rule", "color": "#333333", "strokeWidth": 1.2},
          "encoding": {"y": {"field": "z", "type": "quantitative"}}
        },
        {
          "data": {"name": "legendkeys"},
          "mark": {"type": "point", "filled": true, "opacity": 0.001},
          "encoding": {
            "fill": {"field": "key", "type": "nominal", "scale": {"domain": ["same", "anti"], "range": ["#2c4c9c", "#8f1d1d"]},
              "legend": {"orient": "none", "legendX": -38, "legendY": 4, "title": null, "direction": "vertical", "symbolSize": 1024, "symbolOpacity": 1, "symbolStrokeWidth": 0, "labelExpr": "''", "labelFontSize": 1, "labelOffset": 0, "rowPadding": 15, "padding": 0}},
            "shape": {"field": "key", "type": "nominal",
              "scale": {"domain": ["same", "anti"], "range": ["M-1,-0.3L0.3,-0.3L0.3,-0.55L1,0L0.3,0.55L0.3,0.3L-1,0.3Z", "M1,-0.3L-0.3,-0.3L-0.3,-0.55L-1,0L-0.3,0.55L-0.3,0.3L1,0.3Z"]},
              "legend": {"orient": "none", "legendX": -38, "legendY": 4, "title": null, "direction": "vertical", "symbolSize": 1024, "symbolOpacity": 1, "symbolStrokeWidth": 0, "labelExpr": "''", "labelFontSize": 1, "labelOffset": 0, "rowPadding": 15, "padding": 0}}
          }
        }
      ]
    }
  ],
  "resolve": {"scale": {"color": "independent", "fill": "independent", "shape": "independent", "x": "independent", "y": "independent", "opacity": "independent"}, "legend": {"shape": "independent", "fill": "independent", "color": "independent"}}
}
